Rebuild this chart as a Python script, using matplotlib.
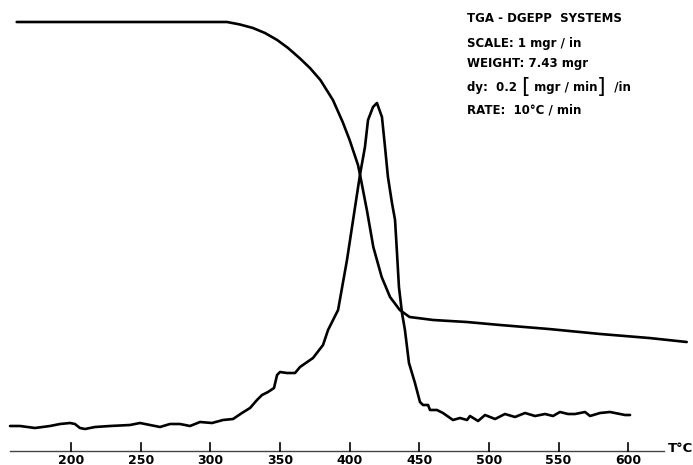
import matplotlib
matplotlib.use("Agg")
import matplotlib.pyplot as plt

# TGA weight trace (temperature in deg C, pen deflection in chart units)
tga_temp = [161, 235, 312, 321.3, 330.6, 339.2, 348, 355.8, 364, 371.5, 379, 388,
            395, 400, 406, 407.5, 412.5, 417, 423, 429, 436, 443, 460, 484, 508,
            543, 580, 615, 642]
tga_defl = [44.3, 44.3, 44.3, 44.05, 43.7, 43.2, 42.5, 41.7, 40.7, 39.7, 38.5, 36.5,
            34.3, 32.5, 30.0, 29.0, 25.4, 21.8, 18.8, 16.8, 15.5, 14.8, 14.5, 14.3,
            14.0, 13.6, 13.1, 12.7, 12.3]

# DTG (rate of weight loss) trace
dtg_temp = [156.2, 163.4, 174.1, 184.9, 192.1, 199.3, 202.8, 206.4, 210.0, 217.2,
            228.0, 242.3, 249.5, 253.1, 256.7, 263.9, 271.0, 278.2, 285.4, 289.0,
            292.6, 301.2, 309.1, 316.3, 322.7, 328.5, 333.5, 337.1, 341.4, 345.7,
            347.9, 350.0, 355.0, 360.8, 364.4, 373.7, 380.9, 384.5, 391.7, 398.1,
            403.9, 407.4, 411.0, 413.2, 416.8, 419.6, 423.2, 425.4, 427.5, 430.4,
            432.6, 434.0, 435.4, 437.6, 439.7, 442.6, 446.9, 450.5, 452.7, 456.3,
            457.7, 462.7, 467.0, 474.2, 479.2, 484.3, 486.4, 492.2, 497.2, 504.4,
            511.5, 518.7, 525.9, 533.1, 540.3, 546.0, 551.0, 556.8, 561.8, 569.0,
            572.6, 579.7, 586.9, 590.5, 597.7, 601.3]
dtg_defl = [3.9, 3.9, 3.7, 3.9, 4.1, 4.2, 4.1, 3.7, 3.6, 3.8,
            3.9, 4.0, 4.2, 4.1, 4.0, 3.8, 4.1, 4.1, 3.9, 4.1,
            4.3, 4.2, 4.5, 4.6, 5.2, 5.7, 6.5, 7.0, 7.3, 7.7,
            9.0, 9.3, 9.2, 9.2, 9.8, 10.7, 12.0, 13.5, 15.5, 20.5,
            25.8, 29.0, 31.8, 34.5, 35.8, 36.2, 34.8, 31.8, 28.8, 26.2,
            24.5, 21.2, 17.8, 15.2, 13.5, 10.2, 8.2, 6.3, 6.0, 6.0,
            5.5, 5.5, 5.2, 4.5, 4.7, 4.5, 4.9, 4.4, 5.0, 4.6,
            5.1, 4.8, 5.2, 4.9, 5.1, 4.9, 5.3, 5.1, 5.1, 5.3,
            4.9, 5.2, 5.3, 5.2, 5.0, 5.0]

tick_temps = [200, 250, 300, 350, 400, 450, 500, 550, 600]

info_lines = [
    "TGA - DGEPP  SYSTEMS",
    "SCALE: 1 mgr / in",
    "WEIGHT: 7.43 mgr",
    None,  # dy line, built from pieces below
    "RATE:  10°C / min",
]

fig = plt.figure(figsize=(6.93, 4.65), dpi=100)
ax = fig.add_axes([0, 0, 1, 1])
ax.set_xlim(149.0, 646.5)
ax.set_ylim(0, 46.5)
ax.axis("off")

ax.plot(tga_temp, tga_defl, color="black", lw=1.9, solid_capstyle="round",
        solid_joinstyle="round")
ax.plot(dtg_temp, dtg_defl, color="black", lw=1.9, solid_capstyle="round",
        solid_joinstyle="round")

# temperature axis drawn as on the chart paper
axis_y = 1.4
ax.plot([156, 626], [axis_y, axis_y], color="#444444", lw=1.0)
for t in tick_temps:
    ax.plot([t, t], [axis_y, axis_y + 0.8], color="black", lw=1.2)
    ax.text(t, 0.5, str(t), ha="center", va="center",
            fontsize=9, fontweight="bold", family="DejaVu Sans")
ax.text(1.0, 1 - 448 / 465, "T°C", transform=ax.transAxes, ha="right", va="center",
        fontsize=9.5, fontweight="bold")

# annotation block, top right
txt_kw = dict(fontsize=8.5, fontweight="bold", va="center", ha="left",
              transform=ax.transAxes)
line_y = [19, 43, 63, 87, 110]
x0 = 467 / 693
for s, ypx in zip(info_lines, line_y):
    if s is not None:
        ax.text(x0, 1 - ypx / 465, s, **txt_kw)

t1 = ax.text(x0, 1 - 87 / 465, "dy:  0.2 ", **txt_kw)
piece_kw = dict(va="center", ha="left", xytext=(0, 0), textcoords="offset points")
t2 = ax.annotate("[", xy=(1, 0.5), xycoords=t1, fontsize=16, fontweight="normal",
                 **piece_kw)
t3 = ax.annotate(" mgr / min", xy=(1, 0.5), xycoords=t2, fontsize=8.5,
                 fontweight="bold", **piece_kw)
t4 = ax.annotate("]", xy=(1, 0.5), xycoords=t3, fontsize=16, fontweight="normal",
                 **piece_kw)
ax.annotate("  /in", xy=(1, 0.5), xycoords=t4, fontsize=8.5, fontweight="bold",
            **piece_kw)

fig.savefig("out.png", dpi=100)
